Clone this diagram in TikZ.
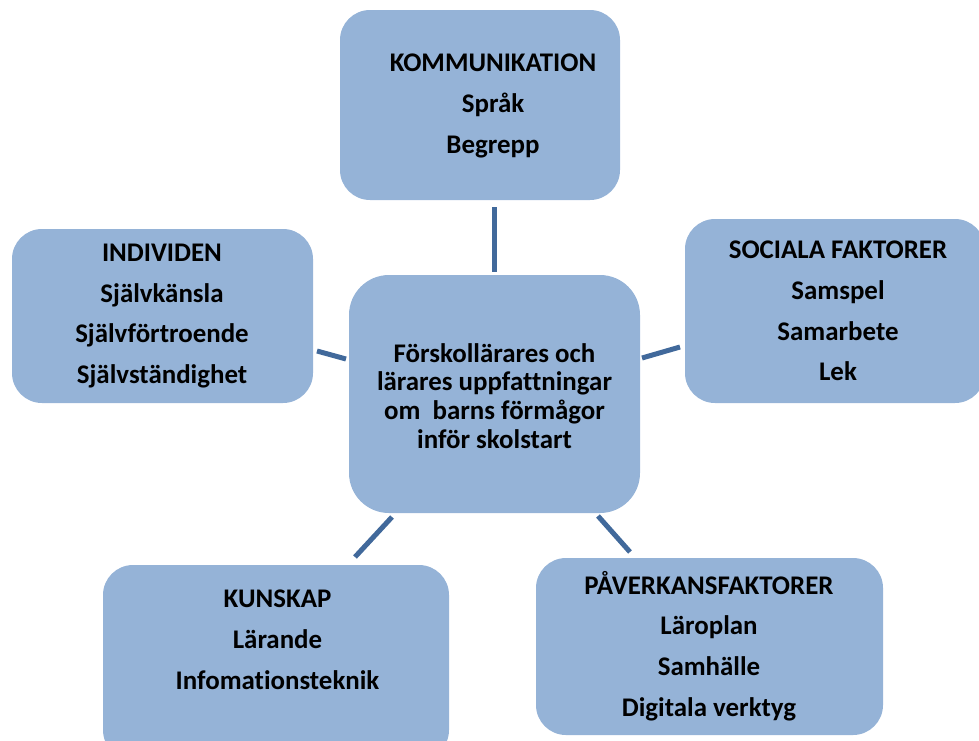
\documentclass[tikz,border=0pt]{standalone}
\usepackage{fontspec}
\setmainfont[Ligatures=NoCommon]{Carlito}
\definecolor{boxblue}{RGB}{149,179,215}
\definecolor{linkblue}{RGB}{65,105,155}
\begin{document}
\begin{tikzpicture}[x=1pt,y=-1pt,
  box/.style={fill=boxblue, draw=none, rounded corners=30pt, inner sep=0pt},
  txt/.style={font=\bfseries\fontsize{26.9}{40.8}\selectfont, align=center, text=black, inner sep=0pt},
  ctxt/.style={font=\bfseries\fontsize{26.9}{28.8}\selectfont, align=center, text=black, inner sep=0pt},
  link/.style={draw=linkblue, line width=5pt}]
\useasboundingbox (0,0) rectangle (979,740);
% boxes
\node[box, minimum width=280pt, minimum height=190pt] (kom) at (480,105) {};
\node[box, minimum width=291pt, minimum height=238pt, rounded corners=40pt] (mid) at (494.5,394) {};
\node[box, minimum width=301pt, minimum height=174pt] (ind) at (162.5,316) {};
\node[box, minimum width=300pt, minimum height=184pt] (soc) at (835,311) {};
\node[box, minimum width=346pt, minimum height=195pt] (kun) at (276,662.5) {};
\node[box, minimum width=347pt, minimum height=177pt] (pav) at (709.5,646.5) {};
% texts
\node[txt] (komt) at (493,106) {KOMMUNIKATION\\Språk\\Begrepp};
\node[ctxt] (midt) at (494.5,396) {Förskollärares och\\lärares uppfattningar\\om\ \ barns förmågor\\inför skolstart};
\node[txt] (indt) at (162,316) {INDIVIDEN\\Självkänsla\\Självförtroende\\Självständighet};
\node[txt] (soct) at (838,311) {SOCIALA FAKTORER\\Samspel\\Samarbete\\Lek};
\node[txt] (kunt) at (277.5,640) {KUNSKAP\\Lärande\\Infomationsteknik};
\node[txt] (pavt) at (709,646) {PÅVERKANSFAKTORER\\Läroplan\\Samhälle\\Digitala verktyg};
% connector ends
\coordinate (a1) at (494,207); \coordinate (a2) at (494,272);
\coordinate (b1) at (317,351); \coordinate (b2) at (346,359);
\coordinate (c1) at (642,358); \coordinate (c2) at (680,347);
\coordinate (d1) at (392,517); \coordinate (d2) at (355,557);
\coordinate (e1) at (598,516); \coordinate (e2) at (630,552);
\draw[link] (a1) -- (a2);
\draw[link] (b1) -- (b2);
\draw[link] (c1) -- (c2);
\draw[link] (d1) -- (d2);
\draw[link] (e1) -- (e2);
\end{tikzpicture}
\end{document}
